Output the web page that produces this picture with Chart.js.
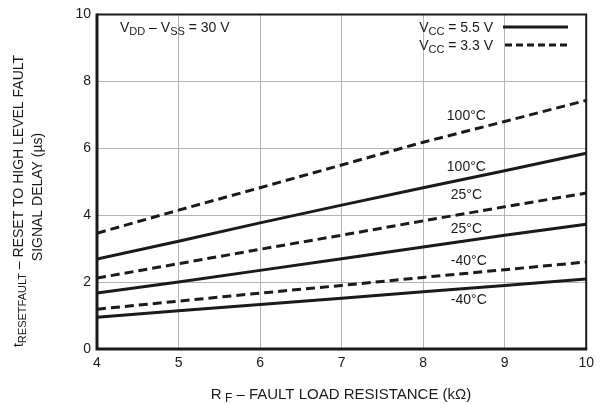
<!DOCTYPE html>
<html>
<head>
<meta charset="utf-8">
<script src="https://cdn.jsdelivr.net/npm/chart.js@4.4.1/dist/chart.umd.min.js"></script>
<style>
  body { margin: 0; background: #fff; }
  #wrap { width: 600px; height: 404px; position: relative; }
</style>
</head>
<body>
<div id="wrap"><canvas id="myChart" width="600" height="404"></canvas></div>
<script>
const resistance = [4, 5, 6, 7, 8, 9, 10]
const hot33 = [3.46, 4.15, 4.82, 5.5, 6.18, 6.8, 7.43]
const hot55 = [2.69, 3.22, 3.77, 4.3, 4.82, 5.33, 5.85]
const room33 = [2.12, 2.55, 2.98, 3.4, 3.83, 4.25, 4.66]
const room55 = [1.67, 2.0, 2.35, 2.7, 3.05, 3.4, 3.73]
const cold33 = [1.19, 1.43, 1.67, 1.9, 2.14, 2.37, 2.6]
const cold55 = [0.95, 1.14, 1.33, 1.52, 1.71, 1.9, 2.09]
const lineLabels = [
  {text: "100°C", x: 8.53, y: 6.95},
  {text: "100°C", x: 8.53, y: 5.45},
  {text: "25°C", x: 8.53, y: 4.6},
  {text: "25°C", x: 8.53, y: 3.58},
  {text: "-40°C", x: 8.56, y: 2.63},
  {text: "-40°C", x: 8.56, y: 1.47}
]

const font = "Liberation Sans, Arial, sans-serif"

function series(vals, dashed){
    return {
      data: resistance.map((x, i) => ({x: x, y: vals[i]})),
      borderColor: "#1a1a1a",
      borderWidth: 3,
      borderDash: dashed ? [9, 5] : [],
      pointRadius: 0,
      fill: false,
      tension: 0
    }
}

// text with a subscript part: parts = [[text, sub], ...]
function drawParts(ctx, parts, x, y, align, size){
    size = size || 14
    const big = size + "px " + font
    const small = Math.round(size * 0.8) + "px " + font
    let w = 0
    parts.forEach(p => { ctx.font = p[1] ? small : big; w += ctx.measureText(p[0]).width })
    let cx = align === "right" ? x - w : align === "center" ? x - w / 2 : x
    ctx.textAlign = "left"
    ctx.textBaseline = "alphabetic"
    parts.forEach(p => {
        ctx.font = p[1] ? small : big
        ctx.fillText(p[0], cx, p[1] ? y + 3 : y)
        cx += ctx.measureText(p[0]).width
    })
}

const extras = {
  id: "extras",
  afterDraw(chart){
    const ctx = chart.ctx
    const {left, right, top, bottom} = chart.chartArea
    const xs = chart.scales.x, ys = chart.scales.y
    ctx.save()
    // frame
    ctx.strokeStyle = "#1a1a1a"
    ctx.lineWidth = 2
    ctx.beginPath()
    ctx.moveTo(left, top); ctx.lineTo(right, top); ctx.lineTo(right, bottom)
    ctx.stroke()
    ctx.lineWidth = 3
    ctx.beginPath()
    ctx.moveTo(left, top - 1); ctx.lineTo(left, bottom); ctx.lineTo(right + 1, bottom)
    ctx.stroke()

    ctx.fillStyle = "#1a1a1a"
    // line labels
    ctx.font = "14px " + font
    ctx.textAlign = "center"
    ctx.textBaseline = "middle"
    lineLabels.forEach(l => ctx.fillText(l.text, xs.getPixelForValue(l.x), ys.getPixelForValue(l.y)))

    // supply note
    drawParts(ctx, [["V"], ["DD", 1], [" – V"], ["SS", 1], [" = 30 V"]], 120, 32, "left")

    // legend
    drawParts(ctx, [["V"], ["CC", 1], [" = 5.5 V"]], 493, 32, "right")
    drawParts(ctx, [["V"], ["CC", 1], [" = 3.3 V"]], 493, 50, "right")
    ctx.lineWidth = 3
    ctx.beginPath(); ctx.moveTo(503, 27); ctx.lineTo(568, 27); ctx.stroke()
    ctx.setLineDash([7, 4])
    ctx.beginPath(); ctx.moveTo(505, 45); ctx.lineTo(567, 45); ctx.stroke()
    ctx.setLineDash([])

    // x title
    drawParts(ctx, [["R"], [" F", 1], [" – FAULT LOAD RESISTANCE (kΩ)"]], 341, 399, "center", 15)

    // y title
    ctx.save()
    ctx.translate(23, 201)
    ctx.rotate(-Math.PI / 2)
    drawParts(ctx, [["t"], ["RESETFAULT", 1], [" – RESET TO HIGH LEVEL FAULT"]], 0, 0, "center")
    ctx.restore()
    ctx.save()
    ctx.translate(42, 197)
    ctx.rotate(-Math.PI / 2)
    drawParts(ctx, [["SIGNAL DELAY (µs)"]], 0, 0, "center")
    ctx.restore()
    ctx.restore()
  }
}

const config = {
  type: "line",
  data: {
    datasets: [
      series(hot33, true), series(hot55, false),
      series(room33, true), series(room55, false),
      series(cold33, true), series(cold55, false)
    ]
  },
  options: {
    responsive: false,
    animation: false,
    layout: {padding: {left: 0, right: 11, top: 14, bottom: 0}},
    plugins: {legend: {display: false}, tooltip: {enabled: false}},
    scales: {
      x: {
        type: "linear", min: 4, max: 10,
        ticks: {stepSize: 1, color: "#1a1a1a", font: {family: font, size: 14}, padding: 6},
        grid: {color: "#b4b4b4", lineWidth: 1, drawTicks: false},
        border: {display: false},
        afterFit: s => { s.height = 55 }
      },
      y: {
        min: 0, max: 10,
        ticks: {stepSize: 2, color: "#1a1a1a", font: {family: font, size: 14}, padding: 6},
        grid: {color: "#b4b4b4", lineWidth: 1, drawTicks: false},
        border: {display: false},
        afterFit: s => { s.width = 97 }
      }
    }
  },
  plugins: [extras]
}

new Chart(document.getElementById("myChart"), config)
</script>
</body>
</html>
